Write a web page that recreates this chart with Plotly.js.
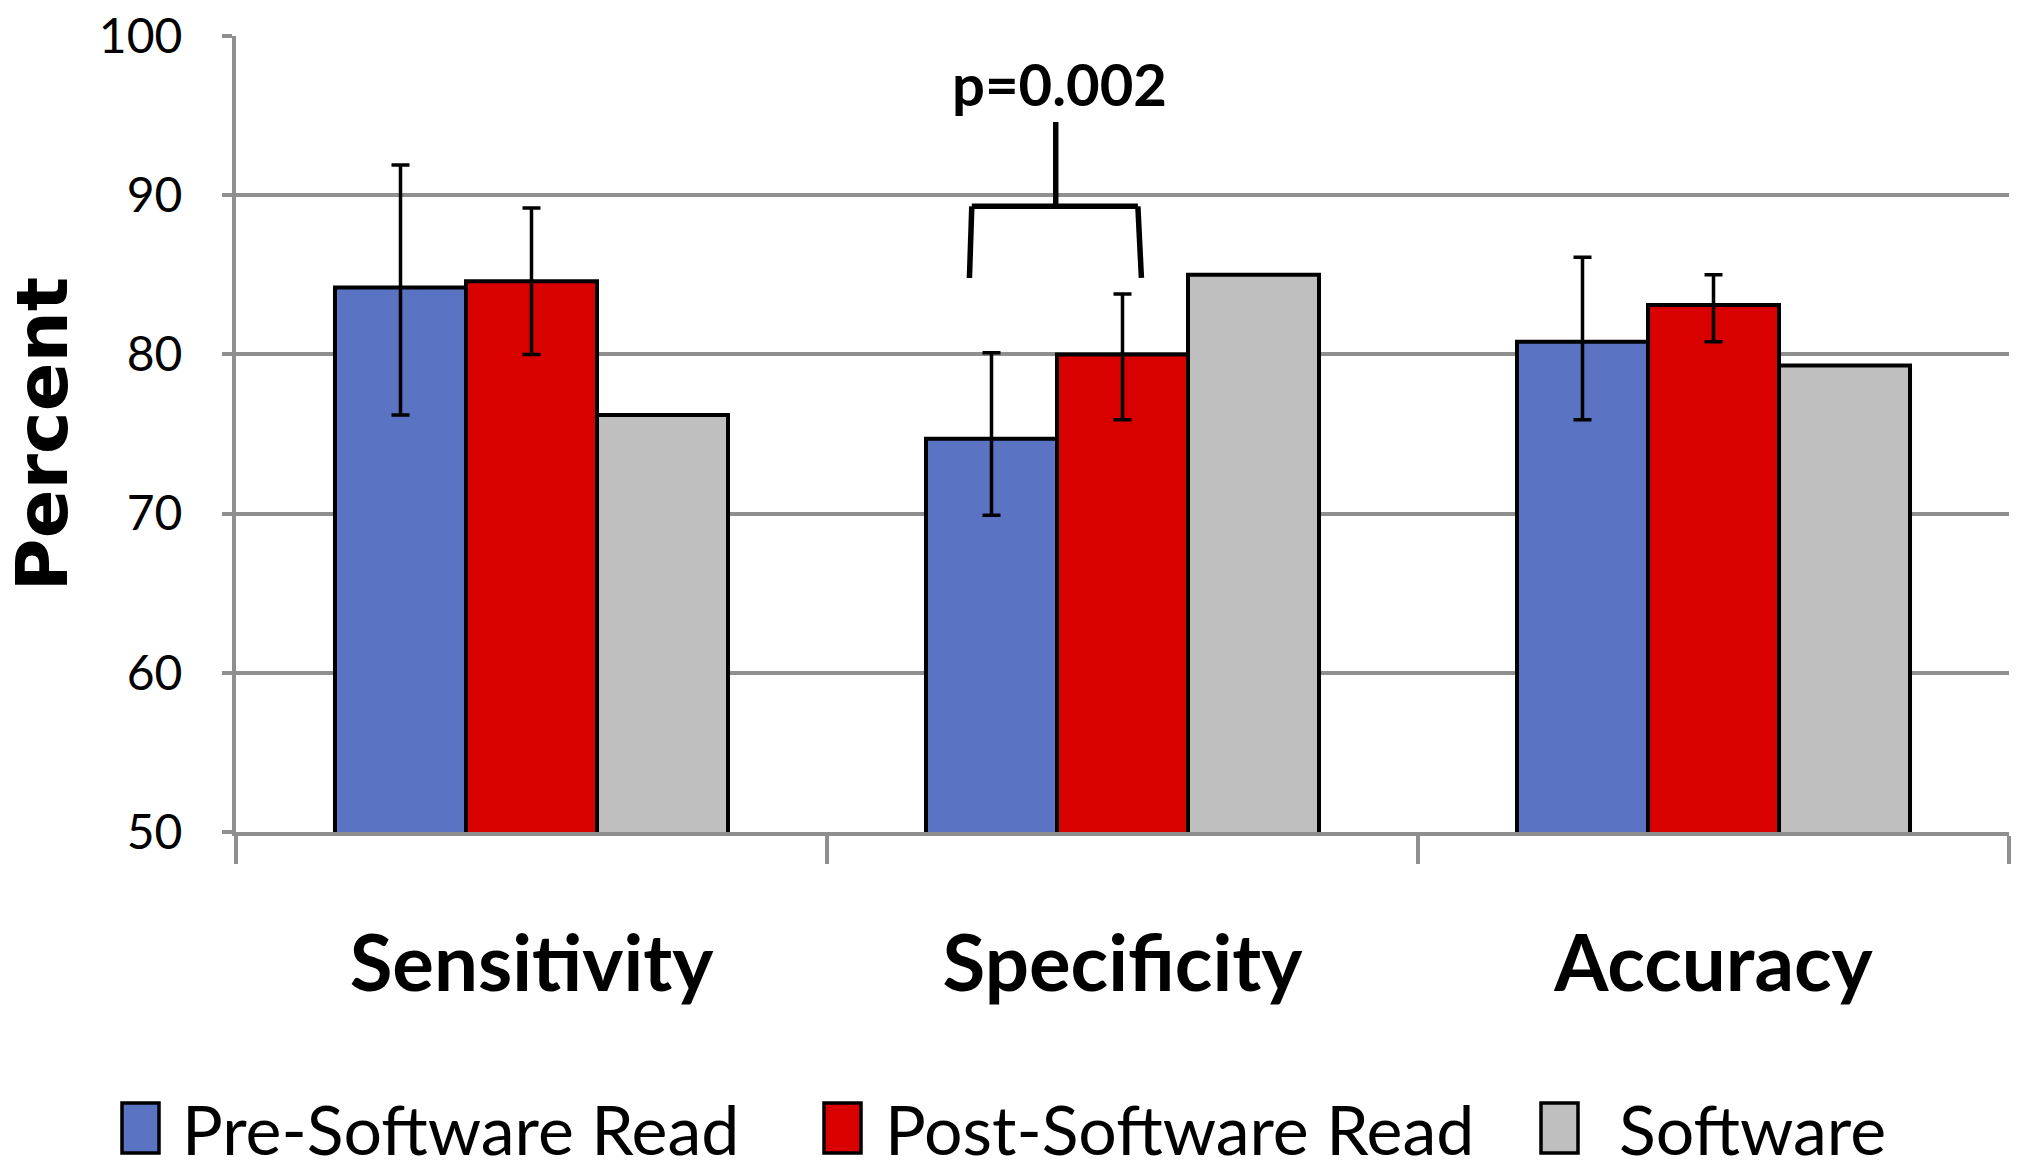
<!DOCTYPE html>
<html>
<head>
<meta charset="utf-8">
<script src="https://cdn.plot.ly/plotly-3.0.1.min.js"></script>
<style>
  html, body { margin: 0; padding: 0; background: #ffffff; }
  #chart { width: 2019px; height: 1171px; }
</style>
</head>
<body>
<div id="chart"></div>
<script>
// ---- data ----
const categories = ["Sensitivity", "Specificity", "Accuracy"];
const seriesNames = ["Pre-Software Read", "Post-Software Read", "Software"];
const preRead = [84.2, 74.7, 80.8];
const preUpper = [91.9, 80.1, 86.1];
const preLower = [76.2, 69.9, 75.9];
const postRead = [84.6, 80.0, 83.1];
const postUpper = [89.2, 83.8, 85.0];
const postLower = [80.0, 75.9, 80.8];
const software = [76.2, 85.0, 79.3];
const yTicks = [50, 60, 70, 80, 90, 100];
const pValueText = "p=0.002";

// ---- styles ----
const W = 2019, H = 1171;
const M = { l: 236, r: 10, t: 36, b: 339 };
const colors = ["#5a73c2", "#d90000", "#bfbfbf"];
const narrow = "Lato, 'Open Sans', sans-serif";
const gridGray = "#8f8f8f";

const plus = (v, hi) => hi.map((h, i) => +(h - v[i]).toFixed(2));
const minus = (v, lo) => lo.map((l, i) => +(v[i] - l).toFixed(2));

const errStyle = { type: "data", symmetric: false, color: "#000000", thickness: 3.5, width: 9 };

const traces = [
  { type: "bar", name: seriesNames[0], x: categories, y: preRead,
    marker: { color: colors[0], line: { color: "#000", width: 4 } },
    error_y: Object.assign({ array: plus(preRead, preUpper), arrayminus: minus(preRead, preLower) }, errStyle) },
  { type: "bar", name: seriesNames[1], x: categories, y: postRead,
    marker: { color: colors[1], line: { color: "#000", width: 4 } },
    error_y: Object.assign({ array: plus(postRead, postUpper), arrayminus: minus(postRead, postLower) }, errStyle) },
  { type: "bar", name: seriesNames[2], x: categories, y: software,
    marker: { color: colors[2], line: { color: "#000", width: 4 } } }
];

// pixel -> paper helpers
const pw = W - M.l - M.r, ph = H - M.t - M.b;
const px = v => (v - M.l) / pw;
const py = v => (H - M.b - v) / ph;

// bracket over Specificity pre vs post (category index 1)
const bx0 = 1 - 0.255, bx1 = 1 + 0.026, bxm = 1 - 0.113;
const brY = 89.3, legY = 84.8, stemTop = 94.6;
const bracketLine = { color: "#000", width: 5.5 };
const shapes = [
  { type: "line", xref: "x", yref: "y", x0: bxm, x1: bxm, y0: brY, y1: stemTop, line: bracketLine },
  { type: "line", xref: "x", yref: "y", x0: bx0, x1: bx1, y0: brY, y1: brY, line: bracketLine },
  { type: "line", xref: "x", yref: "y", x0: bx0, x1: bx0 - 0.004, y0: brY, y1: legY, line: bracketLine },
  { type: "line", xref: "x", yref: "y", x0: bx1, x1: bx1 + 0.006, y0: brY, y1: legY, line: bracketLine }
];

// custom legend
const legendItems = [
  { sx: 122, tx: 180 },
  { sx: 824, tx: 883 },
  { sx: 1541, tx: 1617 }
];
const legCenter = 1128;
const annotations = [
  { xref: "x", yref: "y", x: 1 - 0.107, y: 97.0, text: pValueText, showarrow: false,
    xanchor: "center", yanchor: "middle",
    font: { family: narrow, size: 58, color: "#000", weight: "bold" } }
];
legendItems.forEach((it, i) => {
  shapes.push({ type: "rect", xref: "paper", yref: "paper",
    x0: px(it.sx), x1: px(it.sx + 37), y0: py(legCenter - 25), y1: py(legCenter + 25),
    fillcolor: colors[i], line: { color: "#000", width: 3.5 } });
  annotations.push({ xref: "paper", yref: "paper", x: px(it.tx), y: py(legCenter),
    text: seriesNames[i], showarrow: false, xanchor: "left", yanchor: "middle",
    font: { family: narrow, size: 68, color: "#000" } });
});

const layout = {
  width: W, height: H,
  margin: M,
  paper_bgcolor: "#ffffff", plot_bgcolor: "#ffffff",
  barmode: "group", bargap: 0.335, bargroupgap: 0,
  showlegend: false,
  xaxis: {
    type: "category", range: [-0.5, 2.5],
    showline: true, linecolor: gridGray, linewidth: 4,
    ticks: "outside", tickson: "boundaries", ticklen: 28, tickwidth: 4, tickcolor: gridGray,
    tickfont: { family: narrow, size: 78, color: "#000", weight: "bold" },
    ticklabelstandoff: 61,
    showgrid: false, fixedrange: true, automargin: false
  },
  yaxis: {
    range: [50, 100], tickvals: yTicks, ticktext: yTicks.map(String),
    showline: true, linecolor: gridGray, linewidth: 4,
    ticks: "outside", ticklen: 10, tickwidth: 4, tickcolor: gridGray,
    showgrid: true, gridcolor: gridGray, gridwidth: 4,
    zeroline: false,
    tickfont: { family: narrow, size: 48, color: "#000" },
    ticklabelstandoff: 30,
    title: { text: "Percent", standoff: 36,
      font: { family: "'DejaVu Sans', sans-serif", size: 72, color: "#000", weight: "bold" } },
    automargin: false, fixedrange: true
  },
  shapes: shapes,
  annotations: annotations
};

Plotly.newPlot("chart", traces, layout, { staticPlot: true, displayModeBar: false });
</script>
</body>
</html>
